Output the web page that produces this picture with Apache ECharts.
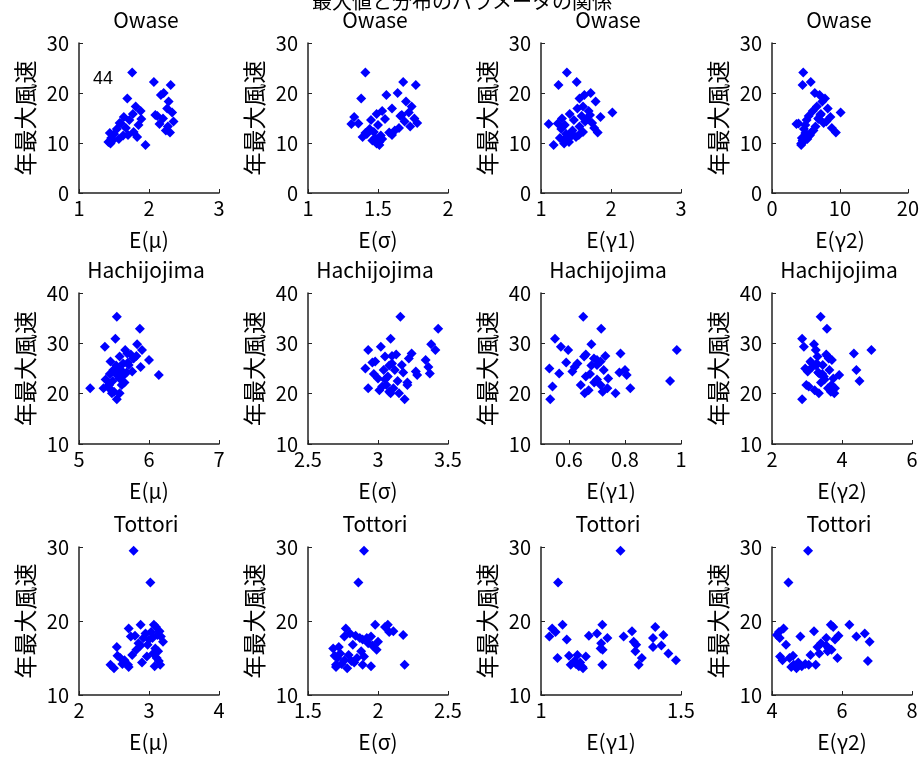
<!DOCTYPE html>
<html>
<head>
<meta charset="utf-8">
<script src="https://cdn.jsdelivr.net/npm/echarts@6/dist/echarts.min.js"></script>
<style>
html,body{margin:0;padding:0;background:#fff;}
#chart{width:922px;height:757px;}
</style>
</head>
<body>
<div id="chart"></div>
<script>
const mainTitle = '最大値と分布のパラメータの関係';
const stations = ['Owase', 'Hachijojima', 'Tottori'];
const paramNames = ['E(μ)', 'E(σ)', 'E(γ1)', 'E(γ2)'];
const yName = '年最大風速';
const noteText = '44';

// Owase
const owaseMax = [24.1,22.2,21.6,20.0,19.6,18.9,18.3,17.3,16.9,16.4,16.1,15.8,15.4,15.2,14.9,14.6,14.3,14.0,13.8,13.6,13.3,13.0,12.8,12.5,12.2,12.1,11.8,11.5,11.2,11.0,10.8,10.5,10.2,9.9,9.6,13.9,14.8,12.0,15.6,11.6];
const owaseMu = [1.76,2.07,2.31,2.21,2.17,1.69,2.28,1.81,2.26,1.88,2.33,1.77,2.12,1.64,2.20,1.72,2.35,1.58,2.15,1.85,2.27,1.67,1.54,2.24,1.78,2.30,1.50,1.63,1.83,1.46,1.57,1.48,1.42,1.45,1.95,1.60,1.89,1.44,2.09,1.70];
const owaseSigma = [1.41,1.68,1.77,1.64,1.56,1.38,1.70,1.74,1.60,1.53,1.72,1.49,1.66,1.33,1.76,1.45,1.69,1.78,1.31,1.50,1.73,1.65,1.44,1.62,1.47,1.58,1.42,1.52,1.39,1.48,1.53,1.46,1.51,1.49,1.51,1.36,1.55,1.41,1.67,1.60];
const owaseGamma1 = [1.37,1.51,1.25,1.71,1.62,1.55,1.78,1.60,1.52,1.68,2.02,1.41,1.58,1.85,1.30,1.47,1.63,1.73,1.11,1.34,1.55,1.76,1.29,1.45,1.60,1.81,1.36,1.44,1.50,1.27,1.38,1.32,1.40,1.33,1.18,1.24,1.66,1.43,1.70,1.54];
const owaseGamma2 = [4.6,5.7,4.5,6.3,7.0,7.8,7.4,6.6,8.2,6.0,10.1,7.2,5.4,8.6,6.8,5.1,8.0,7.6,3.6,4.9,6.4,8.8,4.7,6.1,5.8,9.4,5.0,5.5,4.8,4.4,5.2,4.5,4.6,4.3,4.3,3.9,6.9,4.9,7.1,5.6];

// Hachijojima
const hachijoMax = [35.3,32.9,30.9,29.8,29.3,28.7,28.7,28.0,27.8,27.4,27.0,26.7,26.4,26.0,25.7,25.3,25.0,24.7,24.7,24.4,24.0,23.7,23.4,23.0,22.5,22.2,21.7,21.7,21.4,21.1,21.1,20.7,20.4,20.1,20.1,18.9,25.6,26.2,23.9,27.5,24.2,22.8];
const hachijoMu = [5.54,5.87,5.52,5.83,5.37,5.90,5.66,5.69,5.74,5.58,5.78,6.00,5.45,5.63,5.71,5.88,5.55,5.60,5.49,5.76,5.52,6.14,5.62,5.58,5.48,5.65,5.61,5.43,5.41,5.16,5.35,5.46,5.50,5.47,5.58,5.54,5.53,5.70,5.44,5.82,5.68,5.38];
const hachijoSigma = [3.16,3.43,3.09,3.38,3.02,3.41,2.93,3.24,3.13,3.05,3.22,3.34,2.98,3.10,3.17,3.36,2.91,3.04,3.12,3.27,3.37,3.28,3.07,3.00,3.14,3.21,3.21,3.06,3.03,2.93,3.11,3.01,3.08,3.09,3.15,3.19,3.08,2.96,2.97,3.10,3.18,3.05];
const hachijoGamma1 = [0.651,0.715,0.55,0.68,0.571,0.985,0.597,0.784,0.66,0.654,0.689,0.70,0.713,0.63,0.70,0.62,0.53,0.724,0.80,0.612,0.565,0.806,0.66,0.74,0.961,0.69,0.713,0.642,0.541,0.819,0.737,0.67,0.72,0.656,0.766,0.533,0.68,0.59,0.675,0.73,0.78,0.70];
const hachijoGamma2 = [3.39,3.57,2.86,3.20,2.91,4.84,3.25,4.34,3.55,3.30,3.62,3.71,3.10,3.28,3.45,3.15,2.95,4.41,3.64,3.02,3.35,3.92,3.48,3.75,4.50,3.40,3.70,2.98,3.05,3.80,3.60,3.22,3.68,3.34,3.78,2.86,3.26,3.12,3.44,3.58,3.32,3.50];

// Tottori
const tottoriMax = [29.5,25.2,19.5,19.5,19.2,19.0,18.6,18.3,18.1,18.0,17.9,17.9,17.7,17.7,17.5,17.2,17.0,16.8,16.5,16.3,16.1,15.9,15.6,15.4,15.2,15.0,15.0,14.7,14.6,14.4,14.2,14.1,14.1,14.1,13.8,13.6,13.9,18.5,16.7,15.3];
const tottoriMu = [2.78,3.02,2.88,3.07,3.10,2.71,3.15,2.95,3.12,2.80,3.17,2.74,3.05,2.92,3.00,3.20,2.85,2.98,2.54,3.09,2.82,3.13,3.06,2.76,2.97,2.59,3.11,2.65,3.14,2.90,2.62,2.45,3.16,2.70,2.71,2.50,3.08,3.03,2.88,2.55];
const tottoriSigma = [1.90,1.86,1.98,2.07,2.05,1.77,2.11,1.80,2.18,1.84,1.95,1.76,1.92,1.87,1.89,2.00,1.93,1.82,1.72,1.68,1.99,1.88,1.73,1.79,1.90,1.71,1.85,1.76,1.81,1.83,1.74,2.19,1.89,1.70,1.70,1.78,1.95,2.08,1.96,1.69];
const tottoriGamma1 = [1.284,1.061,1.219,1.077,1.408,1.04,1.325,1.20,1.437,1.171,1.295,1.03,1.237,1.40,1.092,1.331,1.215,1.34,1.40,1.213,1.22,1.337,1.455,1.13,1.16,1.059,1.36,1.482,1.12,1.14,1.125,1.106,1.219,1.349,1.148,1.15,1.135,1.052,1.43,1.10];
const tottoriGamma2 = [5.03,4.47,6.21,5.68,5.75,4.33,5.20,6.65,4.14,5.90,6.41,4.81,5.55,4.22,5.80,6.79,5.40,4.40,5.30,5.62,5.70,5.59,5.35,5.10,4.23,5.87,4.50,4.30,6.74,4.75,4.95,4.62,5.05,5.25,4.55,4.70,4.85,4.20,5.55,4.60];

// Axis tick labels
const yTicks = [[0,10,20,30],[10,20,30,40],[10,20,30]];
const xTicks = [
  [[1,2,3],[1,1.5,2],[1,2,3],[0,10,20]],
  [[5,6,7],[2.5,3,3.5],[0.6,0.8,1],[2,4,6]],
  [[2,3,4],[1.5,2,2.5],[1,1.5],[4,6,8]]
];
const xRanges = [
  [[1,3],[1,2],[1,3],[0,20]],
  [[5,7],[2.5,3.5],[0.5,1],[2,6]],
  [[2,4],[1.5,2.5],[1,1.5],[4,8]]
];

const yData = [owaseMax, hachijoMax, tottoriMax];
const xData = [
  [owaseMu, owaseSigma, owaseGamma1, owaseGamma2],
  [hachijoMu, hachijoSigma, hachijoGamma1, hachijoGamma2],
  [tottoriMu, tottoriSigma, tottoriGamma1, tottoriGamma2]
];

const FONT = '"Noto Sans CJK JP", "Noto Sans", sans-serif';
const colLeft = [79, 308, 541, 772];
const rowTop = [43, 293, 547];
const rowH = [150, 151, 148];
const plotW = 140;
const axisCol = '#222';

const grids = [], xAxes = [], yAxes = [], series = [], graphics = [];
for (let r = 0; r < 3; r++) {
  for (let c = 0; c < 4; c++) {
    const i = r * 4 + c;
    grids.push({left: colLeft[c], top: rowTop[r], width: plotW, height: rowH[r]});
    xAxes.push({
      gridIndex: i, type: 'value',
      min: xRanges[r][c][0], max: xRanges[r][c][1],
      name: paramNames[c], nameLocation: 'middle', nameGap: 37,
      nameTextStyle: {fontSize: 21, color: '#000', fontFamily: FONT},
      axisLine: {show: true, onZero: false, lineStyle: {color: axisCol, width: 1.5}},
      axisTick: {show: true, inside: true, length: 4, customValues: xTicks[r][c], lineStyle: {color: axisCol}},
      axisLabel: {fontSize: 20, color: '#000', margin: 5, fontFamily: FONT, customValues: xTicks[r][c]},
      splitLine: {show: false}
    });
    yAxes.push({
      gridIndex: i, type: 'value',
      min: yTicks[r][0], max: yTicks[r][yTicks[r].length - 1],
      name: yName, nameLocation: 'middle', nameGap: 42, nameRotate: 90,
      nameTextStyle: {fontSize: 23, color: '#000', fontFamily: FONT},
      axisLine: {show: true, onZero: false, lineStyle: {color: axisCol, width: 1.5}},
      axisTick: {show: true, inside: true, length: 4, customValues: yTicks[r], lineStyle: {color: axisCol}},
      axisLabel: {fontSize: 20, color: '#000', margin: 10, fontFamily: FONT, customValues: yTicks[r]},
      splitLine: {show: false}
    });
    series.push({
      type: 'scatter', xAxisIndex: i, yAxisIndex: i,
      symbol: 'diamond', symbolSize: 10,
      itemStyle: {color: '#0000ff', opacity: 1},
      data: xData[r][c].map((x, k) => [x, yData[r][k]])
    });
    graphics.push({
      type: 'text', x: colLeft[c] + plotW / 2 - 3, y: rowTop[r] - 33,
      style: {text: stations[r], font: '21px ' + FONT, fill: '#000', align: 'center', verticalAlign: 'top'}
    });
  }
}
graphics.push({
  type: 'text', x: 462, y: -9,
  style: {text: mainTitle, font: '20px ' + FONT, fill: '#000', align: 'center', verticalAlign: 'top'}
});
graphics.push({
  type: 'text', x: 93, y: 79,
  style: {text: noteText, font: '18px "Liberation Sans", Arial, sans-serif', fill: '#000', align: 'left', verticalAlign: 'middle'}
});

const chart = echarts.init(document.getElementById('chart'), null, {renderer: 'canvas'});
chart.setOption({
  backgroundColor: '#fff',
  animation: false,
  grid: grids, xAxis: xAxes, yAxis: yAxes, series: series,
  graphic: graphics
});
</script>
</body>
</html>
